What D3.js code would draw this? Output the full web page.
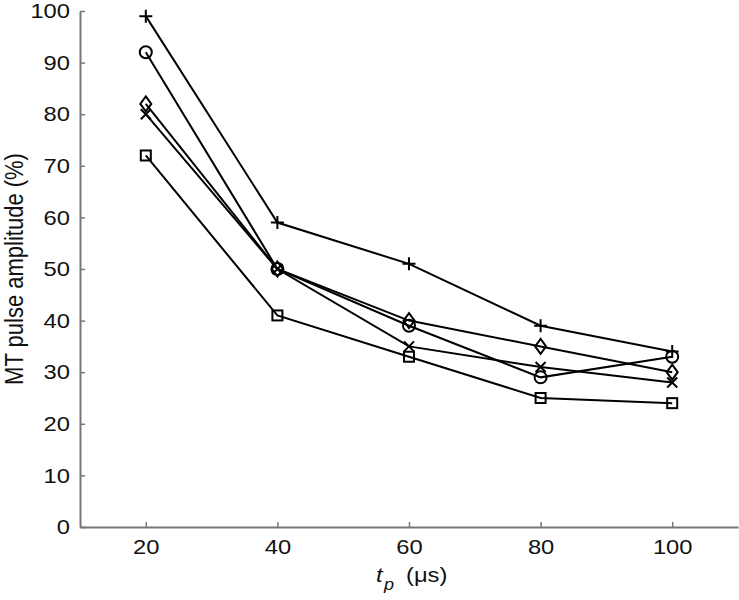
<!DOCTYPE html>
<html><head><meta charset="utf-8">
<script src="https://cdn.jsdelivr.net/npm/d3@7"></script>
<style>
body{margin:0;background:#fff;}
text{font-family:"Liberation Sans",Arial,sans-serif;}
</style></head>
<body><svg id="c" width="739" height="600"></svg>
<script>
const xValues = [20, 40, 60, 80, 100];
const seriesPlus = [99, 59, 51, 39, 34];
const seriesCircle = [92, 50, 39, 29, 33];
const seriesDiamond = [82, 50, 40, 35, 30];
const seriesCross = [80, 50, 35, 31, 28];
const seriesSquare = [72, 41, 33, 25, 24];
const xTicks = [20, 40, 60, 80, 100];
const yTicks = [0,10,20,30,40,50,60,70,80,90,100];

const series = [
  {name:"plus", values:seriesPlus},
  {name:"circle", values:seriesCircle},
  {name:"diamond", values:seriesDiamond},
  {name:"cross", values:seriesCross},
  {name:"square", values:seriesSquare}
];

const svg = d3.select("#c");
const x = d3.scaleLinear().domain([10,110]).range([80,738]);
const y = d3.scaleLinear().domain([0,100]).range([527,11]);
const fs = 21;
const stretch = 1.13;

function widen(sel){
  sel.each(function(){
    const w = this.getComputedTextLength();
    d3.select(this).attr("textLength", w*stretch).attr("lengthAdjust","spacingAndGlyphs");
  });
}

// axes
const axisColor = "#777";
const xAxis = svg.append("g").attr("transform",`translate(0,${y(0)})`)
  .call(d3.axisBottom(x).tickValues(xTicks).tickSizeInner(-5).tickSizeOuter(0).tickPadding(12));
const yAxis = svg.append("g").attr("transform",`translate(${x(10)},0)`)
  .call(d3.axisLeft(y).tickValues(yTicks).tickSizeInner(-5).tickSizeOuter(0).tickPadding(10));
[xAxis,yAxis].forEach(g=>{
  g.select(".domain").attr("stroke",axisColor).attr("stroke-width",2);
  g.selectAll(".tick line").attr("stroke",axisColor).attr("stroke-width",1.5);
  g.selectAll(".tick text").attr("fill","#111").attr("font-size",fs).attr("font-family","Liberation Sans, Arial, sans-serif");
  widen(g.selectAll(".tick text"));
});
xAxis.selectAll(".tick text").attr("dy","0.71em");

// lines
const line = d3.line().x((d,i)=>x(xValues[i])).y(d=>y(d));
series.forEach(s=>{
  svg.append("path").attr("d",line(s.values)).attr("fill","none")
    .attr("stroke","#000").attr("stroke-width",2);
});

// markers
function marker(g, type, cx, cy){
  const st = {fill:"none",stroke:"#000","stroke-width":2};
  let el;
  if(type==="plus"){
    el = g.append("path").attr("d",`M${cx-6.5},${cy}H${cx+6.5}M${cx},${cy-6.5}V${cy+6.5}`);
  } else if(type==="circle"){
    el = g.append("circle").attr("cx",cx).attr("cy",cy).attr("r",6);
  } else if(type==="diamond"){
    el = g.append("path").attr("d",`M${cx},${cy-7.5}L${cx+5.5},${cy}L${cx},${cy+7.5}L${cx-5.5},${cy}Z`);
  } else if(type==="cross"){
    el = g.append("path").attr("d",`M${cx-5},${cy-5}L${cx+5},${cy+5}M${cx-5},${cy+5}L${cx+5},${cy-5}`);
  } else {
    el = g.append("rect").attr("x",cx-5).attr("y",cy-5).attr("width",10).attr("height",10);
  }
  Object.entries(st).forEach(([k,v])=>el.attr(k,v));
}
series.forEach(s=>{
  const g = svg.append("g");
  s.values.forEach((v,i)=>marker(g, s.name, x(xValues[i]), y(v)));
});

// labels
svg.append("text").attr("transform",`translate(23,${(y(0)+y(100))/2}) rotate(-90) scale(1,${stretch})`)
  .attr("text-anchor","middle").attr("font-size",22).attr("fill","#111")
  .text("MT pulse amplitude (%)");
const xg = svg.append("g").attr("fill","#111");
xg.append("text").attr("x",376).attr("y",582).attr("font-size",fs).attr("font-style","italic").text("t");
xg.append("text").attr("x",384).attr("y",590).attr("font-size",16).attr("font-style","italic").text("p");
xg.append("text").attr("x",406).attr("y",582).attr("font-size",fs).text("(μs)");
widen(xg.selectAll("text"));
</script></body></html>
